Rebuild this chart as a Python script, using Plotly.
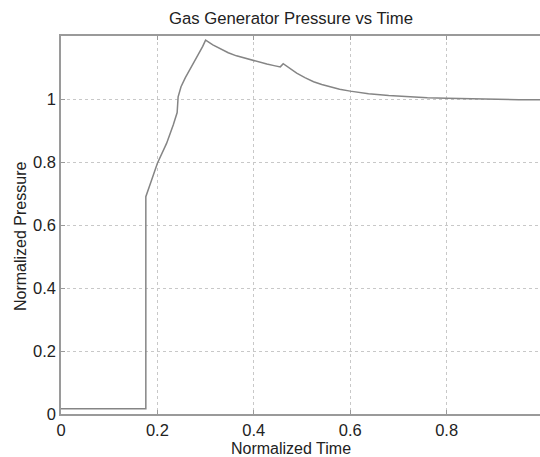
import plotly.graph_objects as go

# Normalized gas generator pressure trace
time = [0.0, 0.176, 0.176, 0.178, 0.181, 0.188, 0.200, 0.219, 0.233, 0.238,
        0.241, 0.243, 0.249, 0.258, 0.268, 0.277, 0.286, 0.294, 0.300, 0.315,
        0.330, 0.347, 0.364, 0.382, 0.398, 0.413, 0.427, 0.442, 0.455, 0.461,
        0.474, 0.489, 0.506, 0.524, 0.541, 0.558, 0.578, 0.600, 0.638, 0.680,
        0.720, 0.760, 0.800, 0.850, 0.900, 0.950, 1.000]
pressure = [0.017, 0.017, 0.690, 0.700, 0.707, 0.743, 0.796, 0.859, 0.918, 0.940,
            0.957, 1.007, 1.039, 1.068, 1.094, 1.120, 1.145, 1.167, 1.187, 1.172,
            1.159, 1.147, 1.137, 1.129, 1.122, 1.116, 1.111, 1.106, 1.102, 1.112,
            1.097, 1.082, 1.068, 1.055, 1.046, 1.039, 1.031, 1.025, 1.017, 1.011,
            1.007, 1.004, 1.002, 1.000, 0.999, 0.998, 0.998]

x_ticks = [0, 0.2, 0.4, 0.6, 0.8, 1]
x_labels = ["0", "0.2", "0.4", "0.6", "0.8", "1"]
y_ticks = [0, 0.2, 0.4, 0.6, 0.8, 1]
y_labels = ["0", "0.2", "0.4", "0.6", "0.8", "1"]

W, H = 540, 457
L, R, T, B = 61, 0, 36, 43
font = "Liberation Sans, Arial, sans-serif"
ink = "#222222"
axis_col = "#9a9a9a"
grid_col = "#c8c8c8"

fig = go.Figure(go.Scatter(
    x=time, y=pressure, mode="lines",
    line=dict(color="#858585", width=1.5),
    hoverinfo="skip",
))

common = dict(
    showline=True, linecolor=axis_col, linewidth=1.5,
    ticks="inside", ticklen=4, tickcolor=axis_col, tickwidth=1,
    showgrid=True, gridcolor=grid_col, griddash="dot", gridwidth=1,
    zeroline=False,
    tickfont=dict(family=font, size=16.5, color=ink),
)

fig.update_layout(
    width=W, height=H,
    margin=dict(l=L, r=R, t=T, b=B),
    paper_bgcolor="white", plot_bgcolor="white",
    showlegend=False,
    title=dict(text="Gas Generator Pressure vs Time",
               font=dict(family=font, size=16.7, color=ink),
               xref="container", yref="container",
               x=291 / W, y=1 - 18 / H, xanchor="center", yanchor="middle"),
    xaxis=dict(range=[0, (W - L) / 482], tickvals=x_ticks, ticktext=x_labels,
               mirror="ticks", **common),
    yaxis=dict(range=[0, 1.2], tickvals=y_ticks, ticktext=y_labels,
               mirror=False, **common),
    annotations=[
        dict(text="Normalized Time", xref="paper", yref="paper",
             x=(291 - L) / (W - L), y=-(448 - (H - B)) / (H - T - B),
             xanchor="center", yanchor="middle", showarrow=False,
             font=dict(family=font, size=16, color=ink)),
        dict(text="Normalized Pressure", xref="paper", yref="paper",
             x=-(L - 20) / (W - L), y=(H - B - 237) / (H - T - B),
             xanchor="center", yanchor="middle", textangle=-90, showarrow=False,
             font=dict(family=font, size=16, color=ink)),
    ],
)

fig.write_html("out.html")
